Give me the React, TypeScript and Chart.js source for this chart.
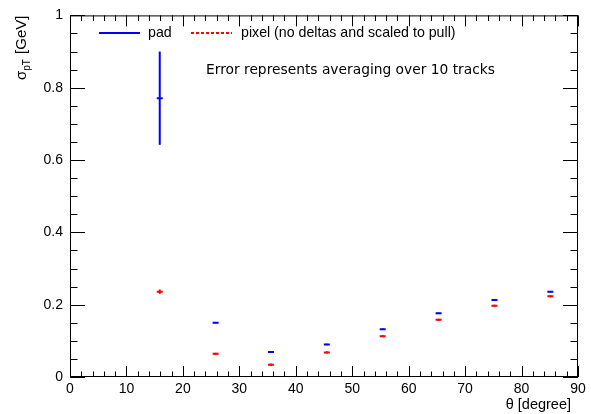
import React, { useEffect, useRef } from "react";
import { Chart, registerables } from "chart.js";

Chart.register(...registerables);

const thetaPad = [15.9, 25.8, 35.6, 45.5, 55.4, 65.3, 75.2, 85.1];
const sigmaPad = [0.771, 0.15, 0.069, 0.09, 0.132, 0.176, 0.213, 0.236];
const errPad = [0.129, 0.002, 0.002, 0.002, 0.002, 0.002, 0.002, 0.002];

const thetaPixel = [15.9, 25.8, 35.6, 45.5, 55.4, 65.3, 75.2, 85.1];
const sigmaPixel = [0.236, 0.064, 0.034, 0.068, 0.113, 0.158, 0.197, 0.223];
const errPixel = [0.006, 0.003, 0.003, 0.003, 0.003, 0.003, 0.003, 0.003];

const legendLabels = ["pad", "pixel (no deltas and scaled to pull)"];
const noteText = "Error represents averaging over 10 tracks";
const xTitle = "\u03b8 [degree]";

const BLUE = "#0000ff";
const RED = "#ff0000";
const FONT = "'Liberation Sans', Arial, sans-serif";

const errors = [errPad, errPixel];

const rootPlugin = {
  id: "rootStyle",
  beforeDatasetsDraw(chart: any) {
    const ctx = chart.ctx;
    const ys = chart.scales.y;
    chart.data.datasets.forEach((ds: any, i: number) => {
      const meta = chart.getDatasetMeta(i);
      ctx.save();
      ctx.strokeStyle = ds.borderColor;
      ctx.lineWidth = 2;
      meta.data.forEach((pt: any, j: number) => {
        const v = ds.data[j].y;
        const e = errors[i][j];
        const y1 = ys.getPixelForValue(v + e);
        const y2 = ys.getPixelForValue(v - e);
        ctx.beginPath();
        ctx.moveTo(pt.x, y1);
        ctx.lineTo(pt.x, y2);
        ctx.stroke();
      });
      ctx.restore();
    });
  },
  afterDraw(chart: any) {
    const ctx = chart.ctx;
    const { left, right, top, bottom } = chart.chartArea;
    const xs = chart.scales.x;
    const ys = chart.scales.y;
    ctx.save();
    // frame
    ctx.strokeStyle = "#000";
    ctx.lineWidth = 1;
    ctx.strokeRect(left + 0.5, top + 0.5, right - left - 1, bottom - top - 1);
    // x ticks (bottom & top)
    ctx.beginPath();
    for (let v = 0; v <= 90.001; v += 2) {
      const px = Math.round(xs.getPixelForValue(v)) + 0.5;
      const major = Math.abs(v % 10) < 0.001;
      const len = major ? 11 : 5.5;
      ctx.moveTo(px, bottom);
      ctx.lineTo(px, bottom - len);
      ctx.moveTo(px, top);
      ctx.lineTo(px, top + len);
    }
    // y ticks (left & right)
    for (let k = 0; k <= 20; k++) {
      const v = k * 0.05;
      const py = Math.round(ys.getPixelForValue(v)) + 0.5;
      const major = k % 4 === 0;
      const len = major ? 15 : 7.5;
      ctx.moveTo(left, py);
      ctx.lineTo(left + len, py);
      ctx.moveTo(right, py);
      ctx.lineTo(right - len, py);
    }
    ctx.stroke();

    // legend
    ctx.lineWidth = 2;
    ctx.strokeStyle = BLUE;
    ctx.beginPath();
    ctx.moveTo(99, 33);
    ctx.lineTo(140, 33);
    ctx.stroke();
    ctx.strokeStyle = RED;
    ctx.setLineDash([3, 2]);
    ctx.beginPath();
    ctx.moveTo(191, 33);
    ctx.lineTo(232, 33);
    ctx.stroke();
    ctx.setLineDash([]);
    ctx.fillStyle = "#000";
    ctx.font = `14.2px ${FONT}`;
    ctx.textBaseline = "middle";
    ctx.textAlign = "left";
    ctx.fillText(legendLabels[0], 148, 33);
    ctx.fillText(legendLabels[1], 241, 33);

    // note
    ctx.font = `13.8px 'DejaVu Sans', sans-serif`;
    ctx.fillText(noteText, 206, 70);

    // x title
    ctx.font = `14.5px ${FONT}`;
    ctx.textAlign = "right";
    ctx.textBaseline = "alphabetic";
    ctx.fillText(xTitle, right - 7, 409);

    // y title (rotated)
    ctx.translate(26, 80);
    ctx.rotate(-Math.PI / 2);
    ctx.textAlign = "left";
    ctx.font = `15px ${FONT}`;
    ctx.fillText("\u03c3", 0, 0);
    let w = ctx.measureText("\u03c3").width;
    ctx.font = `10px ${FONT}`;
    ctx.fillText("pT", w, 4);
    w += ctx.measureText("pT").width + 1;
    ctx.font = `15px ${FONT}`;
    ctx.fillText(" [GeV]", w, 0);
    ctx.restore();
  },
};

export default function App() {
  const ref = useRef<HTMLCanvasElement | null>(null);
  useEffect(() => {
    if (!ref.current) return;
    const chart = new Chart(ref.current, {
      type: "scatter",
      data: {
        datasets: [
          {
            label: legendLabels[0],
            data: thetaPad.map((x, i) => ({ x, y: sigmaPad[i] })),
            borderColor: BLUE,
            backgroundColor: BLUE,
            pointStyle: "line",
            pointRadius: 3,
            borderWidth: 2,
          },
          {
            label: legendLabels[1],
            data: thetaPixel.map((x, i) => ({ x, y: sigmaPixel[i] })),
            borderColor: RED,
            backgroundColor: RED,
            pointStyle: "line",
            pointRadius: 3,
            borderWidth: 2,
          },
        ],
      },
      options: {
        responsive: false,
        animation: false,
        devicePixelRatio: 1,
        layout: { padding: { top: 12, right: 13, left: 0, bottom: 0 } },
        plugins: { legend: { display: false }, tooltip: { enabled: false } },
        scales: {
          x: {
            type: "linear",
            min: 0,
            max: 90,
            grid: { display: false, drawTicks: false },
            border: { display: false },
            ticks: {
              stepSize: 10,
              color: "#000",
              padding: 4,
              maxRotation: 0,
              font: { family: FONT, size: 14 },
            },
            afterFit: (s: any) => {
              s.height = 37;
            },
          },
          y: {
            type: "linear",
            min: 0,
            max: 1,
            grid: { display: false, drawTicks: false },
            border: { display: false },
            ticks: {
              stepSize: 0.2,
              color: "#000",
              padding: 7,
              font: { family: FONT, size: 14 },
              callback: (v: any) => String(Math.round(Number(v) * 10) / 10),
            },
            afterFit: (s: any) => {
              s.width = 70;
            },
          },
        },
      },
      plugins: [rootPlugin],
    });
    return () => chart.destroy();
  }, []);
  return (
    <div style={{ position: "absolute", left: 0, top: 0, width: 591, height: 414, background: "#fff" }}>
      <canvas ref={ref} width={591} height={414} />
    </div>
  );
}
